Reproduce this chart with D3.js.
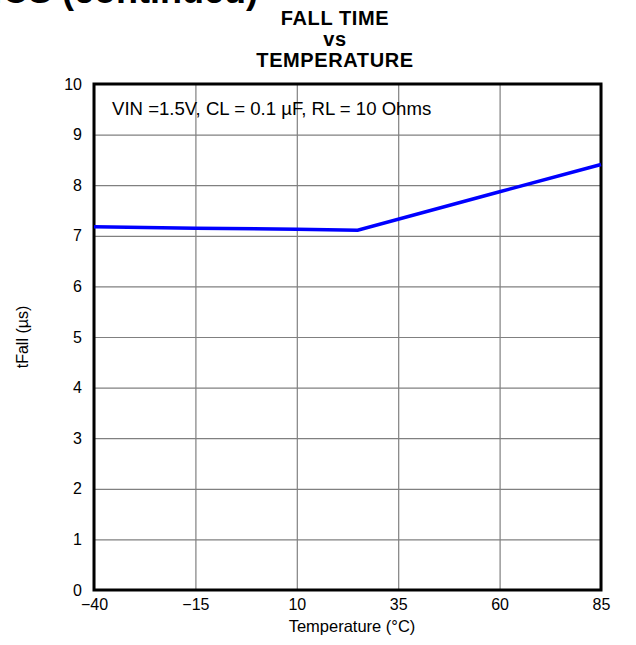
<!DOCTYPE html>
<html>
<head>
<meta charset="utf-8">
<script src="https://cdn.jsdelivr.net/npm/d3@7"></script>
<style>
  body { margin: 0; background: #fff; }
  svg { display: block; font-family: "Liberation Sans", Arial, sans-serif; }
</style>
</head>
<body>
<svg id="chart" width="636" height="645"></svg>
<script>
// fall time vs temperature
var temps = [-40, -15, 10, 25, 60, 85];
var tFall = [7.18, 7.15, 7.13, 7.11, 7.87, 8.41];
var xTicks = [-40, -15, 10, 35, 60, 85];
var yTicks = [0, 1, 2, 3, 4, 5, 6, 7, 8, 9, 10];
var titleLines = ["FALL TIME", "vs", "TEMPERATURE"];
var note = "VIN =1.5V, CL = 0.1 \u00b5F, RL = 10 Ohms";

var svg = d3.select("#chart"),
    margin = {top: 84, right: 35, bottom: 55, left: 94},
    width = 636 - margin.left - margin.right,
    height = 645 - margin.top - margin.bottom;

var x = d3.scaleLinear().domain([-40, 85]).range([0, width]),
    y = d3.scaleLinear().domain([0, 10]).range([height, 0]);

// page heading, cut off at the top edge like in the scan
svg.append("text")
    .attr("x", 258).attr("y", 3)
    .attr("text-anchor", "end")
    .style("font-size", "36px").style("font-weight", "bold")
    .text("TYPICAL CHARACTERISTICS (continued)");

svg.selectAll(".title")
  .data(titleLines)
  .enter().append("text")
    .attr("class", "title")
    .attr("x", 335)
    .attr("y", function(d, i) { return 25 + i * 21; })
    .attr("text-anchor", "middle")
    .style("font-size", "20px").style("font-weight", "bold")
    .style("letter-spacing", "0.6px")
    .text(function(d) { return d; });

var g = svg.append("g")
    .attr("transform", "translate(" + margin.left + "," + margin.top + ")");

// grid
g.append("g")
    .attr("class", "grid")
    .call(d3.axisLeft(y).tickValues(yTicks).tickSize(-width).tickFormat(""))
    .call(function(s) { s.select(".domain").remove(); })
    .selectAll("line").attr("stroke", "#808080").attr("stroke-width", 1.2);

g.append("g")
    .attr("class", "grid")
    .attr("transform", "translate(0," + height + ")")
    .call(d3.axisBottom(x).tickValues(xTicks).tickSize(-height).tickFormat(""))
    .call(function(s) { s.select(".domain").remove(); })
    .selectAll("line").attr("stroke", "#808080").attr("stroke-width", 1.2);

// tick labels
g.append("g")
    .call(d3.axisLeft(y).tickValues(yTicks).tickSize(0).tickPadding(12))
    .call(function(s) { s.select(".domain").remove(); })
    .selectAll("text").style("font-size", "16px").attr("fill", "#000");

g.append("g")
    .attr("transform", "translate(0," + height + ")")
    .call(d3.axisBottom(x).tickValues(xTicks).tickSize(0).tickPadding(9)
      .tickFormat(function(d) { return d < 0 ? "\u2212" + Math.abs(d) : d; }))
    .call(function(s) { s.select(".domain").remove(); })
    .selectAll("text").style("font-size", "16px").attr("fill", "#000");

// frame
g.append("rect")
    .attr("width", width).attr("height", height)
    .attr("fill", "none").attr("stroke", "#000").attr("stroke-width", 3);

// data line
var line = d3.line()
    .x(function(d, i) { return x(temps[i]); })
    .y(function(d) { return y(d); });

g.append("path")
    .datum(tFall)
    .attr("fill", "none")
    .attr("stroke", "#0000ff")
    .attr("stroke-width", 3.5)
    .attr("d", line);

g.append("text")
    .attr("x", 18).attr("y", 31)
    .style("font-size", "18.6px")
    .text(note);

// axis titles
svg.append("text")
    .attr("x", 352).attr("y", 632)
    .attr("text-anchor", "middle")
    .style("font-size", "16.5px")
    .text("Temperature (\u00b0C)");

svg.append("text")
    .attr("transform", "translate(28,337) rotate(-90)")
    .attr("text-anchor", "middle")
    .style("font-size", "16px")
    .text("tFall (\u00b5s)");
</script>
</body>
</html>
